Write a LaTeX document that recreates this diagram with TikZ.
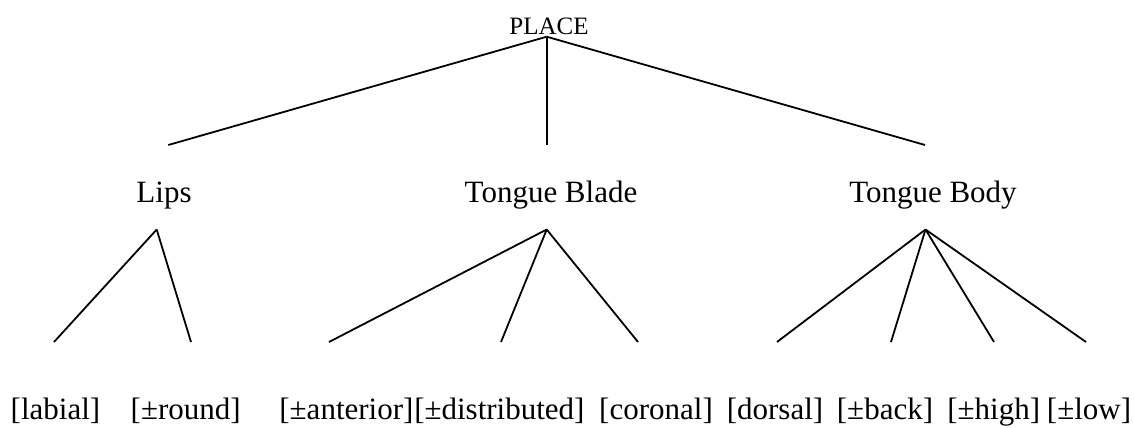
\documentclass[tikz,border=0pt]{standalone}
\usepackage{fontspec}
\setmainfont{Liberation Serif}
\begin{document}
\begin{tikzpicture}[x=0.5pt,y=-0.5pt,
  lbl/.style={inner sep=0pt,anchor=base,font=\fontsize{15.5}{18}\selectfont},
  toplbl/.style={inner sep=0pt,anchor=base,font=\fontsize{12.5}{15}\selectfont},
  branch/.style={line width=0.9pt,line cap=butt}]
\useasboundingbox (0,0) rectangle (1134,428);
% labels
\node[toplbl] (place) at (549,34) {PLACE};
\node[lbl] (lips) at (164,202) {Lips};
\node[lbl] (blade) at (551,202) {Tongue Blade};
\node[lbl] (body) at (933,202) {Tongue Body};
\node[lbl] (labial) at (55.5,419) {[labial]};
\node[lbl] (round) at (185.7,419) {[±round]};
\node[lbl,anchor=base west] (anterior) at (279,419) {[±anterior]};
\node[lbl,anchor=base west] (distributed) at (anterior.base east) {[±distributed]};
\node[lbl] (coronal) at (656,419) {[coronal]};
\node[lbl] (dorsal) at (775,419) {[dorsal]};
\node[lbl] (back) at (885,419) {[±back]};
\node[lbl] (high) at (993.7,419) {[±high]};
\node[lbl] (low) at (1089,419) {[±low]};
% branch points
\coordinate (placeB) at (546.7,36.7);
\coordinate (lipsT) at (168.3,145);
\coordinate (bladeT) at (546.7,145);
\coordinate (bodyT) at (925,145);
\coordinate (lipsB) at (156.7,229.5);
\coordinate (bladeB) at (546.7,229.5);
\coordinate (bodyB) at (925.5,229.5);
\coordinate (labialT) at (54,342);
\coordinate (roundT) at (191,342);
\coordinate (anteriorT) at (329,342);
\coordinate (distributedT) at (501,342);
\coordinate (coronalT) at (638,342);
\coordinate (dorsalT) at (777,342);
\coordinate (backT) at (891,342);
\coordinate (highT) at (994,342);
\coordinate (lowT) at (1086,342);
% connectors
\draw[branch] (placeB) -- (lipsT);
\draw[branch] (placeB) -- (bladeT);
\draw[branch] (placeB) -- (bodyT);
\draw[branch] (lipsB) -- (labialT);
\draw[branch] (lipsB) -- (roundT);
\draw[branch] (bladeB) -- (anteriorT);
\draw[branch] (bladeB) -- (distributedT);
\draw[branch] (bladeB) -- (coronalT);
\draw[branch] (bodyB) -- (dorsalT);
\draw[branch] (bodyB) -- (backT);
\draw[branch] (bodyB) -- (highT);
\draw[branch] (bodyB) -- (lowT);
\end{tikzpicture}
\end{document}
